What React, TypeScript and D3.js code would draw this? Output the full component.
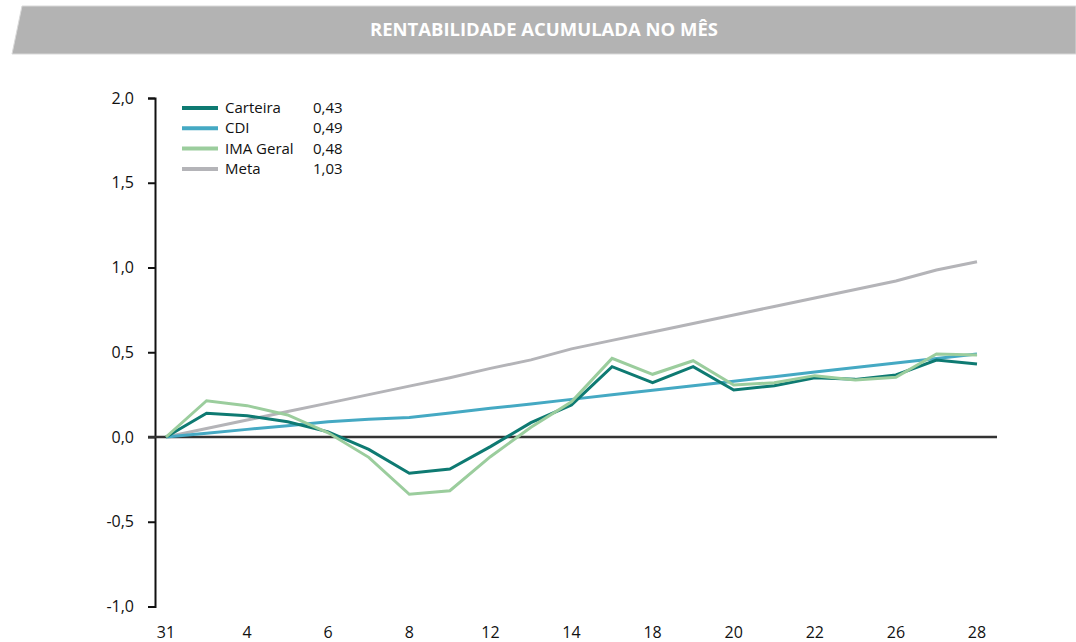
import { useRef, useEffect } from 'react';
import * as d3 from 'd3';

const days = ['31', '3', '4', '5', '6', '7', '8', '11', '12', '13', '14', '15', '18', '19', '20', '21', '22', '25', '26', '27', '28'];
const shownDays = ['31', '4', '6', '8', '12', '14', '18', '20', '22', '26', '28'];

const carteira = [0, 0.14, 0.125, 0.09, 0.03, -0.073, -0.214, -0.189, -0.057, 0.085, 0.189, 0.415, 0.32, 0.415, 0.277, 0.303, 0.35, 0.34, 0.366, 0.454, 0.43];
const cdi = [0, 0.022, 0.045, 0.067, 0.09, 0.105, 0.115, 0.142, 0.169, 0.195, 0.222, 0.249, 0.276, 0.303, 0.329, 0.356, 0.383, 0.41, 0.436, 0.463, 0.49];
const imaGeral = [0, 0.214, 0.185, 0.13, 0.025, -0.12, -0.338, -0.317, -0.116, 0.057, 0.208, 0.464, 0.37, 0.45, 0.307, 0.32, 0.362, 0.336, 0.352, 0.49, 0.484];
const meta = [0, 0.05, 0.1, 0.15, 0.2, 0.25, 0.3, 0.35, 0.405, 0.455, 0.52, 0.57, 0.62, 0.67, 0.72, 0.77, 0.82, 0.87, 0.92, 0.985, 1.034];

const seriesNames = ['Carteira', 'CDI', 'IMA Geral', 'Meta'];
const seriesValues = [carteira, cdi, imaGeral, meta];
const legendValues = ['0,43', '0,49', '0,48', '1,03'];
const colors = ['#0e7a72', '#45a9c3', '#9bcd9d', '#b4b4b8'];
const yTicks = [-1, -0.5, 0, 0.5, 1, 1.5, 2];

export default function App() {
  const svgRef = useRef<SVGSVGElement>(null);

  useEffect(() => {
    if (!svgRef.current) return;
    const svg = d3.select(svgRef.current);
    svg.selectAll('*').remove();

    const font = "'Open Sans', sans-serif";

    // header band
    svg.append('path')
      .attr('d', 'M22,6 L1076,6 L1076,54 L12,54 Z')
      .attr('fill', '#b3b3b3')
      .attr('stroke', '#d9d9d9')
      .attr('stroke-width', 1);
    svg.append('text')
      .attr('x', 544)
      .attr('y', 36)
      .attr('text-anchor', 'middle')
      .attr('fill', '#fff')
      .attr('font-family', font)
      .attr('font-weight', 700)
      .attr('font-size', 17)
      .attr('textLength', 348)
      .attr('lengthAdjust', 'spacingAndGlyphs')
      .text('RENTABILIDADE ACUMULADA NO MÊS');

    const x = d3.scalePoint<string>().domain(days).range([166, 977]);
    const y = d3.scaleLinear().domain([-1, 2]).range([606.5, 98]);

    // y axis
    const yAxis = svg.append('g')
      .attr('transform', 'translate(155,0)')
      .call(d3.axisLeft(y).tickValues(yTicks).tickSize(7).tickPadding(14)
        .tickFormat((d) => (d as number).toFixed(1).replace('.', ',')));
    yAxis.select('.domain').attr('stroke', '#111').attr('stroke-width', 2);
    yAxis.selectAll('line').attr('stroke', '#111').attr('stroke-width', 2);
    yAxis.selectAll('text').attr('fill', '#111').attr('font-family', font).attr('font-size', 16);

    // zero line
    svg.append('line')
      .attr('x1', 148).attr('x2', 997)
      .attr('y1', y(0)).attr('y2', y(0))
      .attr('stroke', '#333').attr('stroke-width', 2.5);

    // x labels
    svg.append('g')
      .selectAll('text')
      .data(shownDays)
      .join('text')
      .attr('x', (d) => x(d) ?? 0)
      .attr('y', 638)
      .attr('text-anchor', 'middle')
      .attr('fill', '#111')
      .attr('font-family', font)
      .attr('font-size', 16)
      .text((d) => d);

    const line = d3.line<number>()
      .x((_, i) => x(days[i]) ?? 0)
      .y((d) => y(d));

    // draw Meta, CDI, Carteira, IMA order
    [3, 1, 0, 2].forEach((k) => {
      svg.append('path')
        .datum(seriesValues[k])
        .attr('d', line)
        .attr('fill', 'none')
        .attr('stroke', colors[k])
        .attr('stroke-width', 3);
    });

    // legend
    const lg = svg.append('g');
    seriesNames.forEach((name, i) => {
      const ly = 108 + i * 20.3;
      lg.append('line')
        .attr('x1', 182).attr('x2', 218)
        .attr('y1', ly).attr('y2', ly)
        .attr('stroke', colors[i]).attr('stroke-width', 4);
      lg.append('text')
        .attr('x', 225).attr('y', ly + 5)
        .attr('font-family', font).attr('font-size', 15).attr('fill', '#111')
        .text(name);
      lg.append('text')
        .attr('x', 313).attr('y', ly + 5)
        .attr('font-family', font).attr('font-size', 15).attr('fill', '#111')
        .text(legendValues[i]);
    });
  }, []);

  return (
    <div style={{ position: 'absolute', left: 0, top: 0 }}>
      <svg ref={svgRef} width={1076} height={642} style={{ display: 'block', background: '#fff' }} />
    </div>
  );
}
